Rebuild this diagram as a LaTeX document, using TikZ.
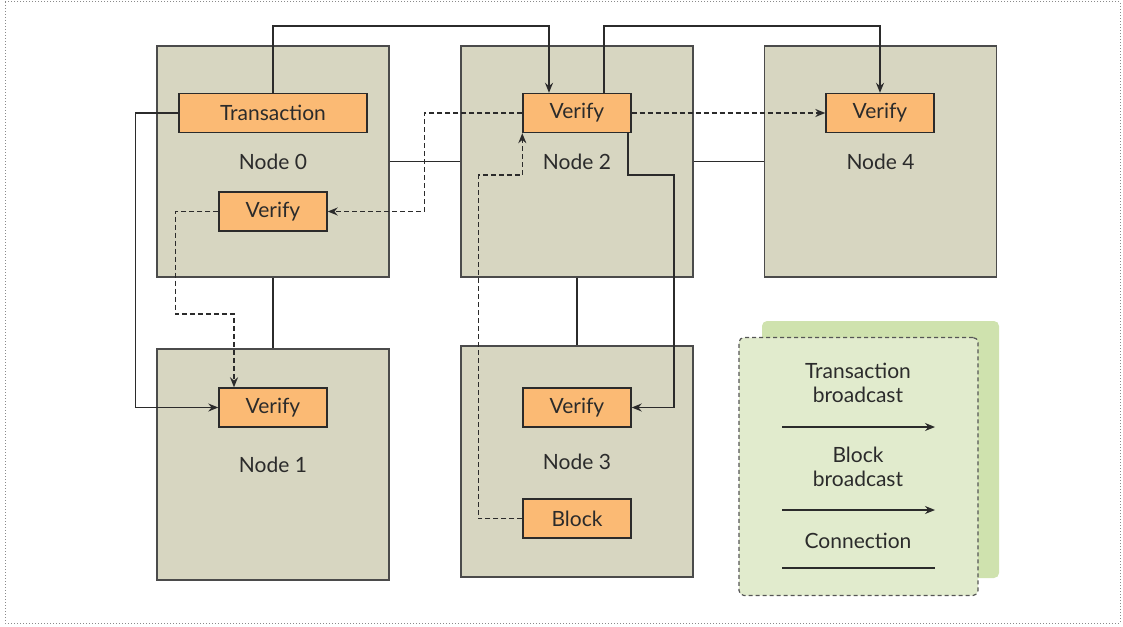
\documentclass[tikz,border=0pt]{standalone}
\usepackage{fontspec}
\setmainfont{Lato}
\usetikzlibrary{positioning,arrows.meta}
\definecolor{nodefill}{HTML}{D7D6C1}
\definecolor{boxfill}{HTML}{FBBA74}
\definecolor{legfill}{HTML}{E1EBCD}
\definecolor{legshade}{HTML}{CFE2AE}
\definecolor{ink}{HTML}{2B2B2B}

\tikzset{
  netbox/.style={draw=ink!85, line width=1.4pt, fill=nodefill, minimum width=232pt,
    minimum height=231pt, inner sep=0pt, text=ink, font=\fontsize{21}{25}\selectfont},
  taskbox/.style={draw=ink, line width=1.4pt, fill=boxfill, minimum width=108pt,
    minimum height=39pt, inner sep=0pt, text=ink, font=\fontsize{21}{25}\selectfont},
  legtext/.style={align=center, text=ink, inner sep=0pt, font=\fontsize{21}{24}\selectfont},
  conn/.style={draw=ink, line width=1.3pt},
  txcast/.style={conn, -{Stealth[length=10pt,width=8pt]}},
  blkcast/.style={txcast, line width=1.4pt, dash pattern=on 5pt off 3pt},
}

\begin{document}
\begin{tikzpicture}[x=1pt,y=-1pt]
    \useasboundingbox (0,0) rectangle (1123,626);
    \draw[ink!55, dotted, line width=1pt] (5,2) rectangle (1120,623);

    %Nodes
    \node[netbox] at (273,161.5)   (n0) {Node 0};
    \node[netbox] at (577,161.5)   (n2) {Node 2};
    \node[netbox] at (880.5,161.5) (n4) {Node 4};
    \node[netbox] at (273,464.5)   (n1) {Node 1};
    \node[netbox] at (577,461.5)   (n3) {Node 3};

    \node[taskbox, minimum width=188pt] at (273,113) (tx) {Transaction};
    \node[taskbox] at (273,211.5) (v0)  {Verify};
    \node[taskbox] at (577,113)   (v2)  {Verify};
    \node[taskbox] at (880,113)   (v4)  {Verify};
    \node[taskbox] at (273,407.5) (v1)  {Verify};
    \node[taskbox] at (577,407.5) (v3)  {Verify};
    \node[taskbox] at (577,518.5) (blk) {Block};

    \coordinate (ytop) at (0,26);
    \coordinate (r3)   at (674,175);
    \coordinate (d1)   at (234,314);

    %Lines
    \draw[conn] (n0.east) -- (n2.west);
    \draw[conn] (n2.east) -- (n4.west);
    \draw[conn] (n0.south) -- (n1.north);
    \draw[conn] (n2.south) -- (n3.north);

    %Transaction broadcast
    \draw[txcast] (tx.north) -- (tx.north |- ytop) -| ([xshift=-28pt]v2.north);
    \draw[txcast] (tx.west) -- ++(-43,0) |- (v1.west);
    \draw[txcast] ([xshift=27pt]v2.north) -- ([xshift=27pt]v2.north |- ytop) -| (v4.north);
    \draw[txcast] ([xshift=51pt]v2.south) |- (r3) |- (v3.east);

    %Block broadcast
    \draw[blkcast] (blk.west) -- ++(-44,0) |- (v2.south west |- r3) -- (v2.south west);
    \draw[blkcast] (v2.west) -- ++(-98,0) |- (v0.east);
    \draw[blkcast] (v2.east) -- (v4.west);
    \draw[blkcast] (v0.west) -- ++(-43,0) |- (d1) -- (v1.north -| d1);

    %Legend
    \fill[legshade, rounded corners=5pt] (762,321) rectangle (999,578);
    \node[draw=ink!80, fill=legfill, line width=1.2pt, dash pattern=on 4pt off 3pt,
      rounded corners=5pt, minimum width=239pt, minimum height=258pt] at (858.5,466.5) (leg) {};
    \node[legtext] at (858,383) (ltx)  {Transaction\\broadcast};
    \node[legtext] at (858,467) (lblk) {Block\\broadcast};
    \node[legtext] at (858,541) (lcon) {Connection};
    \coordinate (la1) at (782,427); \coordinate (lb1) at (935,427);
    \coordinate (la2) at (782,510); \coordinate (lb2) at (935,510);
    \coordinate (la3) at (782,568); \coordinate (lb3) at (935,568);
    \draw[txcast] (la1) -- (lb1);
    \draw[txcast] (la2) -- (lb2);
    \draw[conn] (la3) -- (lb3);
\end{tikzpicture}
\end{document}
